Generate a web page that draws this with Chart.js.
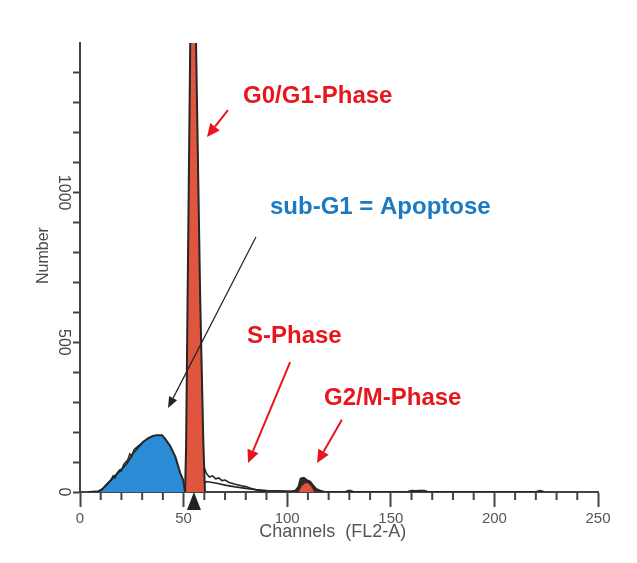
<!DOCTYPE html>
<html>
<head>
<meta charset="utf-8">
<script src="https://cdn.jsdelivr.net/npm/chart.js@4/dist/chart.umd.min.js"></script>
<style>
  html, body { margin: 0; padding: 0; background: #ffffff; }
  #wrap { width: 637px; height: 563px; position: relative; }
</style>
</head>
<body>
<div id="wrap"><canvas id="c" width="637" height="563"></canvas></div>
<script>
// ---- Data ----
const xTickValues = [0, 50, 100, 150, 200, 250];
const yTickLabels = [0, 500, 1000];

// sub-G1 (apoptosis) hump
const subG1Channels = [4, 9, 10.5, 13, 16, 18, 21, 23, 25.6, 28, 30.4, 33, 35.2, 37, 39.6, 41, 43.4, 46, 48.3, 49.8, 50.7];
const subG1Counts   = [0, 2, 8, 25, 47, 62, 83, 100, 130, 148, 167, 180, 187, 190, 190, 178, 155, 118, 65, 40, 0];

// jagged upper trace on the rising flank
const flankChannels = [4, 9, 11, 13, 15, 16, 17, 18, 19, 20, 21, 23, 24, 25, 26, 28, 30.4];
const flankCounts   = [0, 3, 12, 28, 42, 55, 47, 64, 74, 70, 92, 108, 128, 118, 142, 154, 167];

// G0/G1 peak
const g1Channels = [50.7, 51.2, 52.0, 53.2, 54.6, 56.0, 58.0, 59.5, 60.3];
const g1Counts   = [0, 150, 700, 1500, 2250, 1500, 650, 173, 0];

// S-phase traces
const sUpperChannels = [59.8, 61, 62.5, 64, 65.5, 67, 68.5, 70, 72, 75, 78, 80, 83, 86, 90];
const sUpperCounts   = [85, 62, 50, 54, 44, 47, 38, 40, 32, 26, 21, 18, 11, 5, 2];
const sLowerChannels = [58, 61, 66, 70, 75, 80, 85, 90, 95, 100, 104];
const sLowerCounts   = [12, 35, 29, 23, 17, 12, 8, 5, 4, 3, 2];

// G2/M peak (outer trace and red fill)
const g2OuterChannels = [102, 104, 105.5, 106.5, 108, 109.5, 111, 112.5, 114, 116, 118];
const g2OuterCounts   = [0, 5, 18, 45, 47, 40, 35, 22, 10, 4, 0];
const g2Channels = [105.5, 107, 108.5, 110, 111.5, 113];
const g2Counts   = [0, 18, 28, 30, 18, 0];

// sparse events along the baseline
const tailChannels = [116, 120, 128, 130, 132, 158, 160, 162, 164, 166, 168, 220, 222, 224];
const tailCounts   = [0, 0, 0, 5, 0, 0, 4, 3, 4, 4, 0, 0, 4, 0];

// marker position (channel) under the G1 peak
const markerChannel = 55;

// annotations [text, channel, count] (left / baseline)
const labelTexts = ['G0/G1-Phase', 'sub-G1 = Apoptose', 'S-Phase', 'G2/M-Phase'];
const labelChannels = [78.7, 91.7, 80.6, 117.8];
const labelCounts = [1300, 929, 498, 291];
const labelColors = ['#e8161c', '#1a7ac4', '#e8161c', '#e8161c'];

// arrows: tail (channel,count) -> tip (channel,count)
const arrowTailCh = [71.4, 84.9, 101.4, 126.4];
const arrowTailCt = [1276, 852, 434, 241];
const arrowTipCh  = [61.3, 42.5, 81.1, 114.4];
const arrowTipCt  = [1186, 281, 97, 97];
const arrowColors = ['#e8161c', '#222222', '#e8161c', '#e8161c'];

// ---- helpers ----
const pts = (xs, ys) => xs.map((x, i) => ({ x: x, y: ys[i] }));
const FONT = '"Liberation Sans", Arial, sans-serif';
const AXIS = '#444444';
const OUT = '#262626';

const overlay = {
  id: 'overlay',
  afterDraw(chart) {
    const ctx = chart.ctx;
    const xs = chart.scales.x, ys = chart.scales.y;
    const area = chart.chartArea;
    ctx.save();
    // minor x ticks every 10
    ctx.strokeStyle = AXIS; ctx.lineWidth = 2;
    for (let v = 10; v < 250; v += 10) {
      if (v % 50 === 0) continue;
      const px = xs.getPixelForValue(v);
      ctx.beginPath(); ctx.moveTo(px, area.bottom); ctx.lineTo(px, area.bottom + 8); ctx.stroke();
    }
    // marker triangle
    const mx = xs.getPixelForValue(markerChannel);
    ctx.fillStyle = '#222';
    ctx.beginPath();
    ctx.moveTo(mx, area.bottom);
    ctx.lineTo(mx - 7, area.bottom + 18);
    ctx.lineTo(mx + 7, area.bottom + 18);
    ctx.closePath(); ctx.fill();

    // y tick labels rotated
    ctx.fillStyle = AXIS;
    ctx.font = '16px ' + FONT;
    ctx.textAlign = 'center'; ctx.textBaseline = 'middle';
    yTickLabels.forEach(v => {
      const py = ys.getPixelForValue(v);
      ctx.save(); ctx.translate(area.left - 17, py); ctx.rotate(Math.PI / 2);
      ctx.fillText(String(v), 0, 0); ctx.restore();
    });
    // y title
    ctx.font = '16px ' + FONT;
    ctx.fillStyle = '#4a4a4a';
    ctx.save(); ctx.translate(area.left - 36, ys.getPixelForValue(790)); ctx.rotate(-Math.PI / 2);
    ctx.fillText('Number', 0, 0); ctx.restore();
    // x title
    ctx.font = '18px ' + FONT;
    ctx.fillStyle = '#555';
    ctx.textAlign = 'left'; ctx.textBaseline = 'alphabetic';
    ctx.fillText('Channels  (FL2-A)', xs.getPixelForValue(86.5), area.bottom + 45);

    // arrows
    for (let i = 0; i < arrowTailCh.length; i++) {
      const x1 = xs.getPixelForValue(arrowTailCh[i]), y1 = ys.getPixelForValue(arrowTailCt[i]);
      const x2 = xs.getPixelForValue(arrowTipCh[i]), y2 = ys.getPixelForValue(arrowTipCt[i]);
      const ang = Math.atan2(y2 - y1, x2 - x1);
      const head = i === 1 ? 11 : 13, hw = i === 1 ? 4.5 : 6;
      const bx = x2 - head * Math.cos(ang), by = y2 - head * Math.sin(ang);
      ctx.strokeStyle = arrowColors[i]; ctx.fillStyle = arrowColors[i];
      ctx.lineWidth = i === 1 ? 1.2 : 2;
      ctx.beginPath(); ctx.moveTo(x1, y1); ctx.lineTo(bx, by); ctx.stroke();
      ctx.beginPath();
      ctx.moveTo(x2, y2);
      ctx.lineTo(bx + hw * Math.sin(ang), by - hw * Math.cos(ang));
      ctx.lineTo(bx - hw * Math.sin(ang), by + hw * Math.cos(ang));
      ctx.closePath(); ctx.fill();
    }
    // labels
    ctx.font = 'bold 24px ' + FONT;
    ctx.textAlign = 'left'; ctx.textBaseline = 'alphabetic';
    for (let i = 0; i < labelTexts.length; i++) {
      ctx.fillStyle = labelColors[i];
      ctx.fillText(labelTexts[i], xs.getPixelForValue(labelChannels[i]), ys.getPixelForValue(labelCounts[i]));
    }
    ctx.restore();
  }
};

const lineDs = (label, data, opts) => Object.assign({
  label: label, data: data, showLine: true, pointRadius: 0, tension: 0, fill: false,
  borderColor: OUT, borderWidth: 1.5, backgroundColor: 'transparent'
}, opts);

new Chart(document.getElementById('c'), {
  type: 'scatter',
  data: {
    datasets: [
      lineDs('G0/G1', pts(g1Channels, g1Counts), { fill: 'origin', backgroundColor: '#e0553d', borderWidth: 2, order: 1 }),
      lineDs('G2/M outer', pts(g2OuterChannels, g2OuterCounts), { fill: 'origin', backgroundColor: '#3a2b28', borderWidth: 2, order: 3 }),
      lineDs('G2/M', pts(g2Channels, g2Counts), { fill: 'origin', backgroundColor: '#e0553d', borderWidth: 0, order: 2 }),
      lineDs('sub-G1', pts(subG1Channels, subG1Counts), { fill: 'origin', backgroundColor: '#2b8cd6', borderWidth: 2, order: 5 }),
      lineDs('flank', pts(flankChannels, flankCounts), { borderWidth: 1.3, order: 4 }),
      lineDs('S upper', pts(sUpperChannels, sUpperCounts), { borderWidth: 1.6, order: 6 }),
      lineDs('S lower', pts(sLowerChannels, sLowerCounts), { borderWidth: 1.6, order: 7 }),
      lineDs('tail', pts(tailChannels, tailCounts), { borderWidth: 2, order: 8 })
    ]
  },
  options: {
    responsive: false,
    animation: false,
    layout: { padding: { left: 60, right: 39, top: 43, bottom: 11 } },
    plugins: { legend: { display: false }, tooltip: { enabled: false } },
    scales: {
      x: {
        type: 'linear', min: 0, max: 250,
        afterFit(s) { s.height = 60; },
        afterBuildTicks(s) { s.ticks = xTickValues.map(v => ({ value: v })); },
        grid: { drawOnChartArea: false, drawTicks: true, tickLength: 15, tickColor: AXIS, tickWidth: 2 },
        border: { display: true, color: AXIS, width: 2 },
        ticks: { color: '#555', font: { family: FONT, size: 15 }, padding: 3, maxRotation: 0, autoSkip: false }
      },
      y: {
        type: 'linear', min: 0, max: 1500,
        afterFit(s) { s.width = 20; },
        ticks: { stepSize: 100, callback: () => '', font: { size: 1 }, padding: 0 },
        grid: { drawOnChartArea: false, drawTicks: true, tickLength: 7, tickWidth: 2,
          tickColor: (c) => (c.tick && c.tick.value >= 1500) ? 'rgba(0,0,0,0)' : AXIS },
        border: { display: true, color: AXIS, width: 2 }
      }
    }
  },
  plugins: [overlay]
});
</script>
</body>
</html>
